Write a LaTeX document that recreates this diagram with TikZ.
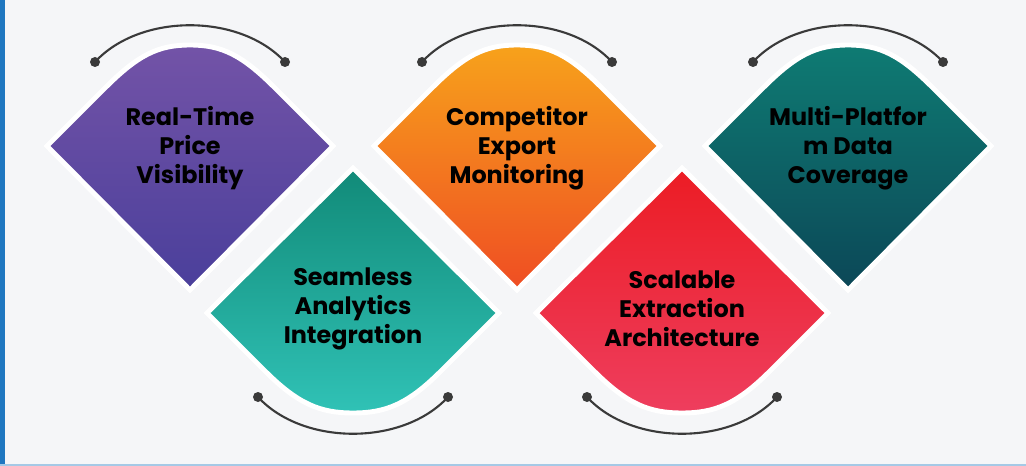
\documentclass[tikz,border=0pt]{standalone}
\usepackage{fontspec}
\setmainfont{Poppins}
\usetikzlibrary{calc}

\definecolor{bgcol}{HTML}{F5F6F8}
\definecolor{edgeblue}{HTML}{1F77C0}
\definecolor{arccol}{HTML}{3A3A3A}
\definecolor{purpleA}{HTML}{7353A7}
\definecolor{purpleB}{HTML}{4A3F9B}
\definecolor{orangeA}{HTML}{F7A21B}
\definecolor{orangeB}{HTML}{EF4D23}
\definecolor{petrolA}{HTML}{0E7B73}
\definecolor{petrolB}{HTML}{0C4757}
\definecolor{tealA}{HTML}{118A78}
\definecolor{tealB}{HTML}{30C2B6}
\definecolor{redA}{HTML}{EC1C24}
\definecolor{redB}{HTML}{EE3E5E}

\tikzset{
  label/.style={align=center,font=\fontsize{17}{20.5}\selectfont\bfseries,text=black},
  tile/.style={draw=white,line width=3.5pt,line join=miter},
  hook/.style={draw=arccol,line width=1.5pt},
  dot/.style={fill=arccol,draw=none}
}
% tile pointing down, rounded top
\newcommand{\uptile}[3]{%
  \path[tile,top color=#2,bottom color=#3]
    (#1-143,146) -- (#1-85,88) .. controls (#1-52,55) and (#1-32,45) .. (#1,45)
    .. controls (#1+32,45) and (#1+52,55) .. (#1+85,88) -- (#1+143,146) -- (#1,290) -- cycle;
  \draw[hook] (#1-95,62) .. controls (#1-50,13) and (#1+50,13) .. (#1+95,62);
  \fill[dot] (#1-95,62) circle (5); \fill[dot] (#1+95,62) circle (5);
}
% tile pointing up, rounded bottom
\newcommand{\downtile}[3]{%
  \path[tile,top color=#2,bottom color=#3]
    (#1-146,313) -- (#1,168) -- (#1+146,313) -- (#1+88,371)
    .. controls (#1+55,404) and (#1+33,413) .. (#1,413)
    .. controls (#1-33,413) and (#1-55,404) .. (#1-88,371) -- cycle;
  \draw[hook] (#1-95,397) .. controls (#1-50,446) and (#1+50,446) .. (#1+95,397);
  \fill[dot] (#1-95,397) circle (5); \fill[dot] (#1+95,397) circle (5);
}

\begin{document}
\begin{tikzpicture}[x=0.025cm,y=-0.025cm]
\fill[bgcol] (0,0) rectangle (1026,466);
\useasboundingbox (0,0) rectangle (1026,466);
\fill[edgeblue] (0,0) rectangle (5,466);
\fill[edgeblue!40] (0,464) rectangle (1026,466);

\uptile{190}{purpleA}{purpleB}
\uptile{517}{orangeA}{orangeB}
\uptile{848}{petrolA}{petrolB}
\downtile{353}{tealA}{tealB}
\downtile{682}{redA}{redB}

\node[label] (price) at (190,148) {Real-Time\\Price\\Visibility};
\node[label] (export) at (517,148) {Competitor\\Export\\Monitoring};
\node[label] (platform) at (848,148) {Multi-Platfor\\m Data\\Coverage};
\node[label] (analytics) at (353,309) {Seamless\\Analytics\\Integration};
\node[label] (scalable) at (682,309) {Scalable\\Extraction\\Architecture};
\end{tikzpicture}
\end{document}
